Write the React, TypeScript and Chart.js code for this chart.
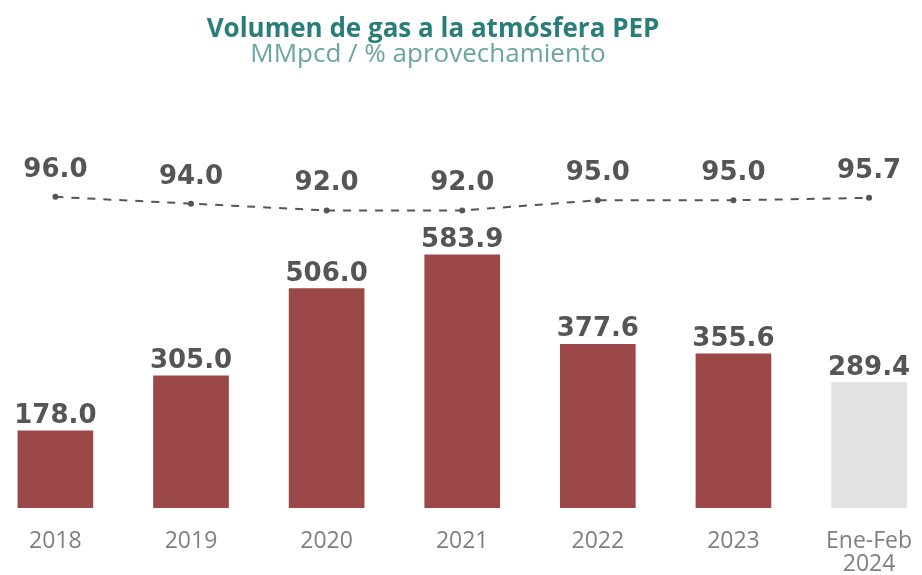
import React, { useEffect, useRef } from "react";
import { Chart, registerables } from "chart.js";

Chart.register(...registerables);

const categories: (string | string[])[] = ["2018", "2019", "2020", "2021", "2022", "2023", ["Ene-Feb", "2024"]];
const volumen = [178.0, 305.0, 506.0, 583.9, 377.6, 355.6, 289.4];
const aprovechamiento = [96.0, 94.0, 92.0, 92.0, 95.0, 95.0, 95.7];
const titleText = "Volumen de gas a la atmósfera PEP";
const subtitleText = "MMpcd / % aprovechamiento";

const RED = "#9d4848";
const GRAY_BAR = "#e2e2e2";
const LABEL = "#555555";

const headerPlugin = {
  id: "header",
  afterDraw(chart: any) {
    const ctx = chart.ctx;
    ctx.save();
    ctx.textAlign = "center";
    ctx.textBaseline = "alphabetic";
    ctx.fillStyle = "#2b7d7a";
    ctx.font = "bold 26px 'Open Sans'";
    ctx.fillText(titleText, 433, 37);
    ctx.fillStyle = "#6aa5a2";
    ctx.font = "normal 26px 'Open Sans'";
    ctx.fillText(subtitleText, 428, 62);
    ctx.restore();
  },
};

const labelPlugin = {
  id: "valueLabels",
  afterDatasetsDraw(chart: any) {
    const ctx = chart.ctx;
    ctx.save();
    ctx.fillStyle = LABEL;
    ctx.textAlign = "center";
    ctx.textBaseline = "alphabetic";
    ctx.font = "bold 26px 'DejaVu Sans'";
    chart.data.datasets.forEach((ds: any, di: number) => {
      const meta = chart.getDatasetMeta(di);
      meta.data.forEach((el: any, i: number) => {
        const v = ds.data[i].y as number;
        const off = ds.type === "line" ? 20 : 8;
        ctx.fillText(v.toFixed(1), el.x, el.y - off);
      });
    });
    ctx.restore();
  },
};

export default function App() {
  const ref = useRef<HTMLCanvasElement | null>(null);
  useEffect(() => {
    if (!ref.current) return;
    const chart = new Chart(ref.current, {
      type: "bar",
      data: {
        datasets: [
          {
            type: "line",
            label: "% aprovechamiento",
            data: aprovechamiento.map((y, x) => ({ x, y })),
            yAxisID: "y2",
            borderColor: "#555555",
            backgroundColor: "#555555",
            borderWidth: 2,
            borderDash: [8, 8],
            pointRadius: 3,
            pointBackgroundColor: "#555555",
            pointBorderWidth: 0,
            order: 0,
          } as any,
          {
            type: "bar",
            label: "MMpcd",
            data: volumen.map((y, x) => ({ x, y })),
            yAxisID: "y",
            backgroundColor: (c: any) => (c.dataIndex === categories.length - 1 ? GRAY_BAR : RED),
            barThickness: 75,
            order: 1,
          } as any,
        ],
      },
      options: {
        responsive: false,
        animation: false,
        layout: { padding: { top: 120, bottom: 0, left: 0, right: 0 } },
        plugins: {
          legend: { display: false },
          tooltip: { enabled: false },
          title: { display: false },
        },
        scales: {
          x: {
            type: "linear",
            offset: false,
            min: -0.379,
            max: 6.361,
            grid: { display: false, drawTicks: false },
            border: { display: false },
            afterBuildTicks: (axis: any) => {
              axis.ticks = categories.map((_, i) => ({ value: i }));
            },
            afterFit: (axis: any) => {
              axis.height = 67;
              axis.paddingLeft = 0;
              axis.paddingRight = 0;
            },
            ticks: {
              padding: 22,
              color: "#808080",
              font: { family: "'Open Sans'", size: 23, lineHeight: 1.0 },
              maxRotation: 0,
              autoSkip: false,
              callback: (v: any) => categories[v as number] as any,
            },
          },
          y: {
            display: false,
            min: 0,
            max: 895,
          },
          y2: {
            display: false,
            min: 4.5,
            max: 118.6,
          },
        },
      },
      plugins: [labelPlugin, headerPlugin],
    } as any);
    return () => chart.destroy();
  }, []);
  return (
    <div style={{ position: "fixed", left: 0, top: 0, width: 922, height: 575, background: "#fff" }}>
      <canvas ref={ref} width={922} height={575} />
    </div>
  );
}
